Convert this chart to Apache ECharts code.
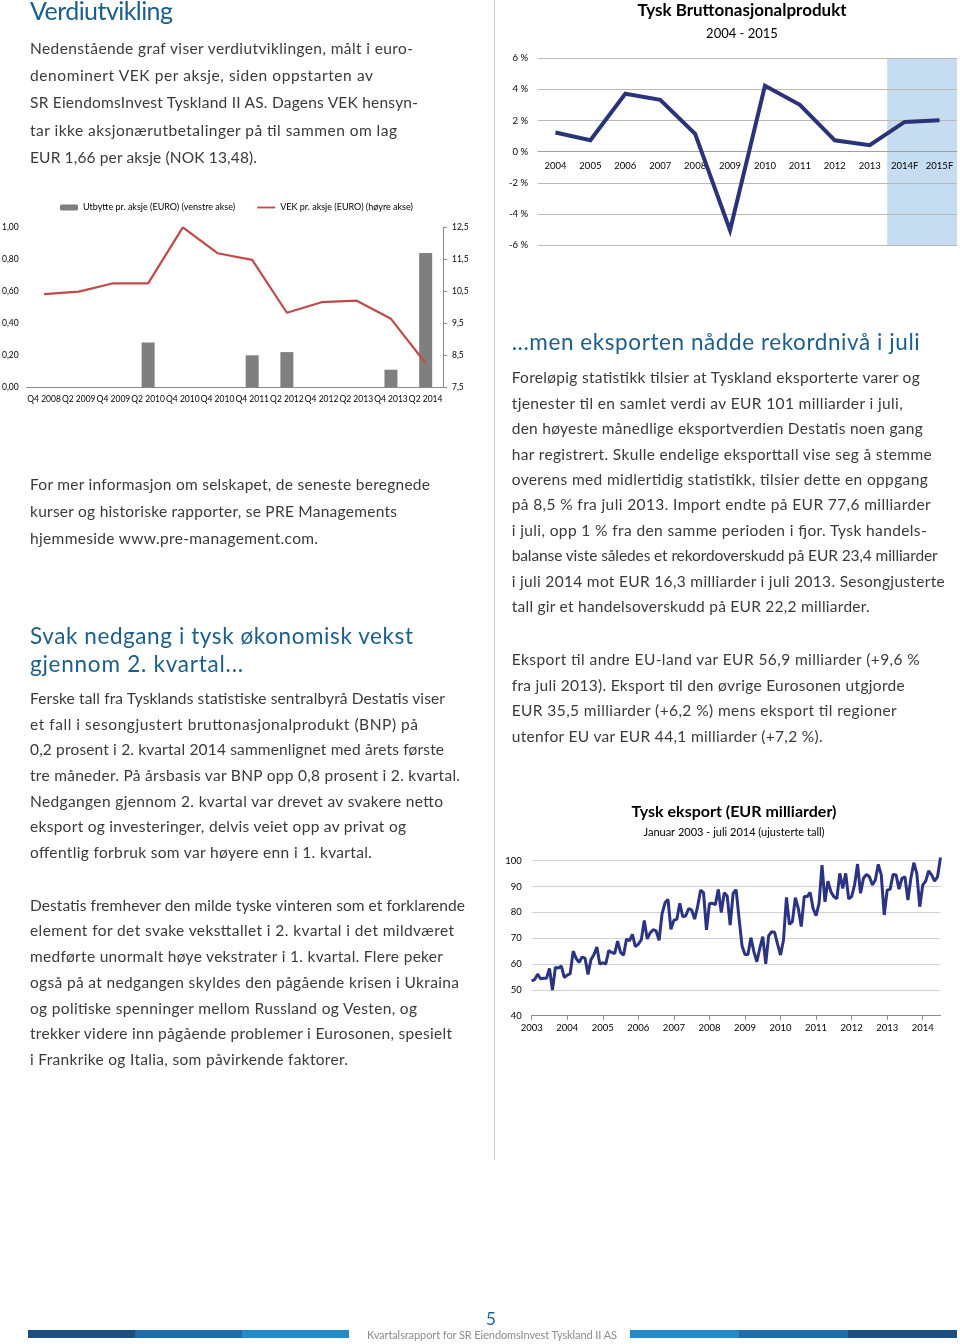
<!DOCTYPE html>
<html><head><meta charset="utf-8">
<script src="https://cdn.jsdelivr.net/npm/echarts@6/dist/echarts.min.js"></script>
<style>
html,body{margin:0;padding:0;background:#fff;}
#page{position:relative;width:960px;height:1344px;overflow:hidden;background:#fff;}
#chart{position:absolute;left:0;top:0;width:960px;height:1344px;}
#overlay{position:absolute;left:0;top:0;pointer-events:none;}
</style></head><body>
<div id="page"><div id="chart"></div><svg id="overlay" width="960" height="1344" xmlns="http://www.w3.org/2000/svg"></svg></div>
<script>
// ---------- DATA ----------
// Left chart: Verdiutvikling
const quarterLabels = ['Q4 2008','Q2 2009','Q4 2009','Q2 2010','Q4 2010','Q4 2010','Q4 2011','Q2 2012','Q4 2012','Q2 2013','Q4 2013','Q2 2014'];
const dividend = [0, 0, 0, 0.28, 0, 0, 0.20, 0.22, 0, 0, 0.11, 0.84];
const vek = [10.41, 10.49, 10.75, 10.75, 12.5, 11.69, 11.48, 9.83, 10.16, 10.21, 9.64, 8.25];
const dividendName = 'Utbytte pr. aksje (EURO) (venstre akse)';
const vekName = 'VEK pr. aksje (EURO) (høyre akse)';

// GDP chart
const gdpYears = ['2004','2005','2006','2007','2008','2009','2010','2011','2012','2013','2014F','2015F'];
const gdpGrowth = [1.23, 0.73, 3.72, 3.33, 1.14, -5.05, 4.24, 3.01, 0.73, 0.41, 1.91, 2.02];
const gdpTitle = 'Tysk Bruttonasjonalprodukt';
const gdpSubtitle = '2004 - 2015';

// Export chart (monthly, EUR bn)
const exportYears = ['2003','2004','2005','2006','2007','2008','2009','2010','2011','2012','2013','2014'];
const exp2003 = [53.5, 54.0, 56.1, 54.3, 54.5, 54.5, 58.3, 49.9, 58.7, 58.5, 59.2, 54.8];
const exp2004 = [55.7, 56.3, 65.0, 62.2, 60.6, 62.7, 62.3, 56.0, 61.7, 63.6, 66.6, 59.9];
const exp2005 = [60.5, 60.0, 65.2, 64.5, 64.0, 68.9, 64.5, 63.4, 69.7, 69.0, 71.5, 66.7];
const exp2006 = [67.7, 69.4, 76.9, 69.7, 72.1, 73.3, 72.8, 69.2, 79.4, 83.7, 85.0, 73.4];
const exp2007 = [77.0, 77.3, 83.5, 78.3, 78.7, 81.5, 80.9, 77.4, 82.2, 88.6, 87.6, 73.2];
const exp2008 = [83.4, 83.5, 83.0, 88.9, 79.9, 87.6, 86.3, 75.1, 87.4, 88.8, 77.7, 67.1];
const exp2009 = [63.7, 63.7, 70.2, 64.8, 60.9, 66.1, 70.6, 60.1, 71.0, 72.5, 72.3, 67.7];
const exp2010 = [63.5, 69.3, 85.8, 75.4, 76.4, 85.7, 81.5, 74.5, 86.1, 86.1, 87.7, 81.5];
const exp2011 = [78.7, 83.5, 98.3, 84.1, 92.1, 88.0, 86.1, 85.2, 95.1, 89.3, 95.1, 85.2];
const exp2012 = [86.1, 90.6, 98.7, 87.4, 93.2, 94.7, 93.8, 90.6, 92.5, 98.6, 94.5, 79.0];
const exp2013 = [88.6, 89.0, 94.7, 94.5, 89.0, 93.2, 93.7, 84.8, 93.2, 99.2, 95.1, 82.2];
const exp2014 = [90.6, 92.1, 96.0, 94.5, 92.1, 93.8, 101.2];
const exportTitle = 'Tysk eksport (EUR milliarder)';
const exportSubtitle = 'Januar 2003 - juli 2014 (ujusterte tall)';

// ---------- build ----------
const exportByYear = [exp2003, exp2004, exp2005, exp2006, exp2007, exp2008, exp2009, exp2010, exp2011, exp2012, exp2013, exp2014];
const exportMonths = [];
const exportValues = [];
exportByYear.forEach((arr, yi) => {
  arr.forEach((v, mi) => {
    exportMonths.push(exportYears[yi] + '-' + String(mi + 1).padStart(2, '0'));
    exportValues.push(v);
  });
});
const forecastStart = gdpYears.indexOf('2014F');
const gdpMin = -6, gdpMax = 6;

const FONT = 'Lato';
const AX = '#8a8a8a';
const isYearStart = (i) => i % 12 === 0;

// GDP grid geometry (pixels) -> axis offset that puts the category axis on the 0 line
const gdpGrid = {left: 538, top: 58.3, width: 419, height: 186.7};
const gdpZeroOffset = -gdpGrid.height * (0 - gdpMin) / (gdpMax - gdpMin);

const chart = echarts.init(document.getElementById('chart'), null, {renderer: 'canvas'});
const option = {
  animation: false,
  textStyle: {fontFamily: FONT},
  grid: [
    {left: 26.7, top: 227.3, width: 416.3, height: 160, outerBoundsMode: 'none'},
    Object.assign({outerBoundsMode: 'none'}, gdpGrid),
    {left: 531.7, top: 860.7, width: 408.8, height: 155, outerBoundsMode: 'none'}
  ],
  legend: {
    left: 60, top: 203, padding: 0,
    itemWidth: 18, itemHeight: 6, itemGap: 22,
    textStyle: {fontSize: 9, color: '#000', fontFamily: FONT},
    data: [
      {name: dividendName},
      {name: vekName, icon: 'path://M0,0L20,0L20,2L0,2Z'}
    ]
  },
  graphic: [
    {type: 'text', x: 742, y: 11, style: {text: gdpTitle, fontFamily: FONT, fontWeight: 'bold', fontSize: 17, fill: '#000', align: 'center', verticalAlign: 'middle'}},
    {type: 'text', x: 742, y: 34.3, style: {text: gdpSubtitle, fontFamily: FONT, fontSize: 13, fill: '#000', align: 'center', verticalAlign: 'middle'}},
    {type: 'text', x: 734, y: 811.4, style: {text: exportTitle, fontFamily: FONT, fontWeight: 'bold', fontSize: 16, fill: '#000', align: 'center', verticalAlign: 'middle'}},
    {type: 'text', x: 734, y: 832, style: {text: exportSubtitle, fontFamily: FONT, fontSize: 11, fill: '#000', align: 'center', verticalAlign: 'middle'}}
  ],
  xAxis: [
    {gridIndex: 0, type: 'category', data: quarterLabels,
     axisLine: {onZero: false, lineStyle: {color: AX}}, axisTick: {length: 4, lineStyle: {color: AX}},
     axisLabel: {interval: 0, fontSize: 8.5, color: '#000', margin: 7, fontFamily: FONT},
     splitLine: {show: false}},
    {gridIndex: 1, type: 'category', data: gdpYears, position: 'bottom', offset: gdpZeroOffset, z: 3,
     axisLine: {onZero: false, lineStyle: {color: '#a0a0a0'}}, axisTick: {length: 4, lineStyle: {color: '#a0a0a0'}},
     axisLabel: {interval: 0, fontSize: 9.5, color: '#000', margin: 9, fontFamily: FONT},
     splitLine: {show: false}},
    {gridIndex: 2, type: 'category', data: exportMonths, boundaryGap: false,
     axisLine: {onZero: false, lineStyle: {color: AX}}, axisTick: {interval: isYearStart, length: 4, lineStyle: {color: AX}},
     axisLabel: {interval: isYearStart, formatter: (v) => v.slice(0, 4), fontSize: 9.5, color: '#000', margin: 7, fontFamily: FONT},
     splitLine: {show: false}},
    {gridIndex: 1, type: 'value', min: 0, max: gdpYears.length, show: false}
  ],
  yAxis: [
    {gridIndex: 0, type: 'value', min: 0, max: 1, interval: 0.2,
     axisLine: {show: false, onZero: false}, axisTick: {show: false}, splitLine: {show: false},
     axisLabel: {fontSize: 8.5, color: '#000', margin: 8, fontFamily: FONT, formatter: (v) => v.toFixed(2).replace('.', ',')}},
    {gridIndex: 0, type: 'value', position: 'right', min: 7.5, max: 12.5, interval: 1,
     axisLine: {show: true, onZero: false, lineStyle: {color: AX}}, axisTick: {show: true, length: 4, lineStyle: {color: AX}}, splitLine: {show: false},
     axisLabel: {fontSize: 8.5, color: '#000', margin: 9, fontFamily: FONT, formatter: (v) => v.toFixed(1).replace('.', ',')}},
    {gridIndex: 1, type: 'value', min: gdpMin, max: gdpMax, interval: 2, z: 3,
     axisLine: {show: false, onZero: false}, axisTick: {show: false},
     splitLine: {show: true, lineStyle: {color: '#b8b8b8', width: 1}},
     axisLabel: {fontSize: 9.5, color: '#000', margin: 10, fontFamily: FONT, formatter: (v) => v + ' %'}},
    {gridIndex: 2, type: 'value', min: 40, max: 100, interval: 10,
     axisLine: {show: false, onZero: false}, axisTick: {show: false},
     splitLine: {show: true, lineStyle: {color: '#d2d2d2', width: 1}},
     axisLabel: {fontSize: 9.5, color: '#000', margin: 10, fontFamily: FONT}}
  ],
  series: [
    {name: dividendName, type: 'bar', xAxisIndex: 0, yAxisIndex: 0, data: dividend, barWidth: 13,
     itemStyle: {color: '#7f7f7f'}},
    {name: vekName, type: 'line', xAxisIndex: 0, yAxisIndex: 1, data: vek, symbol: 'none',
     lineStyle: {color: '#bf4a47', width: 2.2}, itemStyle: {color: '#bf4a47'}, z: 4},
    {name: 'forecast', type: 'line', xAxisIndex: 3, yAxisIndex: 2, data: [], z: 1, silent: true,
     markArea: {silent: true, z: 1, itemStyle: {color: '#c6dcf1'},
       data: [[{xAxis: forecastStart, yAxis: gdpMin}, {xAxis: gdpYears.length, yAxis: gdpMax}]]}},
    {name: 'BNP', type: 'line', xAxisIndex: 1, yAxisIndex: 2, data: gdpGrowth, symbol: 'none', z: 5,
     lineStyle: {color: '#2b3378', width: 4, join: 'miter'}},
    {name: 'Eksport', type: 'line', xAxisIndex: 2, yAxisIndex: 3, data: exportValues, symbol: 'none', clip: false, z: 5,
     lineStyle: {color: '#2b3383', width: 3}}
  ]
};
chart.setOption(option);

// ---------- page text (SVG overlay) ----------
const NS = 'http://www.w3.org/2000/svg';
const svg = document.getElementById('overlay');
const HEAD = '#1b5e8c';
const BODY = '#3a3a3a';

const introTitle = 'Verdiutvikling';
const introLines = [
  'Nedenstående graf viser verdiutviklingen, målt i euro-',
  'denominert VEK per aksje, siden oppstarten av',
  'SR EiendomsInvest Tyskland II AS. Dagens VEK hensyn-',
  'tar ikke aksjonærutbetalinger på til sammen om lag',
  'EUR 1,66 per aksje (NOK 13,48).'
];
const infoLines = [
  'For mer informasjon om selskapet, de seneste beregnede',
  'kurser og historiske rapporter, se PRE Managements',
  'hjemmeside www.pre-management.com.'
];
const gdpHeadLines = ['Svak nedgang i tysk økonomisk vekst', 'gjennom 2. kvartal...'];
const gdpParaLines = [
  'Ferske tall fra Tysklands statistiske sentralbyrå Destatis viser',
  'et fall i sesongjustert bruttonasjonalprodukt (BNP) på',
  '0,2 prosent i 2. kvartal 2014 sammenlignet med årets første',
  'tre måneder. På årsbasis var BNP opp 0,8 prosent i 2. kvartal.',
  'Nedgangen gjennom 2. kvartal var drevet av svakere netto',
  'eksport og investeringer, delvis veiet opp av privat og',
  'offentlig forbruk som var høyere enn i 1. kvartal.'
];
const destatisLines = [
  'Destatis fremhever den milde tyske vinteren som et forklarende',
  'element for det svake veksttallet i 2. kvartal i det mildværet',
  'medførte unormalt høye vekstrater i 1. kvartal. Flere peker',
  'også på at nedgangen skyldes den pågående krisen i Ukraina',
  'og politiske spenninger mellom Russland og Vesten, og',
  'trekker videre inn pågående problemer i Eurosonen, spesielt',
  'i Frankrike og Italia, som påvirkende faktorer.'
];
const exportHead = '...men eksporten nådde rekordnivå i juli';
const exportParaLines = [
  'Foreløpig statistikk tilsier at Tyskland eksporterte varer og',
  'tjenester til en samlet verdi av EUR 101 milliarder i juli,',
  'den høyeste månedlige eksportverdien Destatis noen gang',
  'har registrert. Skulle endelige eksporttall vise seg å stemme',
  'overens med midlertidig statistikk, tilsier dette en oppgang',
  'på 8,5 % fra juli 2013. Import endte på EUR 77,6 milliarder',
  'i juli, opp 1 % fra den samme perioden i fjor. Tysk handels-',
  'balanse viste således et rekordoverskudd på EUR 23,4 milliarder',
  'i juli 2014 mot EUR 16,3 milliarder i juli 2013. Sesongjusterte',
  'tall gir et handelsoverskudd på EUR 22,2 milliarder.'
];
const euLines = [
  'Eksport til andre EU-land var EUR 56,9 milliarder (+9,6 %',
  'fra juli 2013). Eksport til den øvrige Eurosonen utgjorde',
  'EUR 35,5 milliarder (+6,2 %) mens eksport til regioner',
  'utenfor EU var EUR 44,1 milliarder (+7,2 %).'
];
const pageNumber = '5';
const footerText = 'Kvartalsrapport for SR EiendomsInvest Tyskland II AS';

function addText(str, x, y, size, color, width) {
  const t = document.createElementNS(NS, 'text');
  t.setAttribute('x', x); t.setAttribute('y', y);
  t.setAttribute('font-family', FONT); t.setAttribute('font-size', size);
  t.setAttribute('fill', color);
  if (width) { t.setAttribute('textLength', width); t.setAttribute('lengthAdjust', 'spacing'); }
  t.textContent = str;
  svg.appendChild(t);
}
function addBlock(lines, x, y0, lh, size, color, widths) {
  lines.forEach((s, i) => addText(s, x, y0 + i * lh, size, color, widths[i]));
}
function addRect(x, y, w, h, fill) {
  const r = document.createElementNS(NS, 'rect');
  r.setAttribute('x', x); r.setAttribute('y', y); r.setAttribute('width', w); r.setAttribute('height', h);
  r.setAttribute('fill', fill); svg.appendChild(r);
}

// separator
const sep = document.createElementNS(NS, 'line');
sep.setAttribute('x1', 494.5); sep.setAttribute('x2', 494.5); sep.setAttribute('y1', 0); sep.setAttribute('y2', 1160);
sep.setAttribute('stroke', '#d0d0d0'); sep.setAttribute('stroke-width', 1); svg.appendChild(sep);

addText(introTitle, 30, 20, 25, HEAD, 143);
addBlock(introLines, 30, 54, 27.2, 15.5, BODY, [383, 343, 388, 367, 227]);
addBlock(infoLines, 30, 490, 27.2, 15.5, BODY, [400, 367, 288]);
addBlock(gdpHeadLines, 30, 644.3, 27.4, 22.5, HEAD, [383, 213]);
addBlock(gdpParaLines, 30, 704.3, 25.55, 15.5, BODY, [415, 388, 414, 430, 413, 376, 342]);
addBlock(destatisLines, 30, 910.7, 25.7, 15.5, BODY, [435, 424, 413, 429, 387, 422, 318]);
addText(exportHead, 511.7, 350, 22.5, HEAD, 408);
addBlock(exportParaLines, 511.7, 383.3, 25.4, 15.5, BODY, [408, 391, 411, 420, 416, 419, 415, 426, 433, 358]);
addBlock(euLines, 511.7, 665, 25.5, 15.5, BODY, [408, 393, 385, 311]);

// footer
const footerLeft = ['#1c4f7e', '#1e6ca8', '#228bc8'];
const footerRight = ['#228bc8', '#1e6ca8', '#1c4f7e'];
footerLeft.forEach((c, i) => addRect(28 + i * 107, 1330, 107, 8, c));
footerRight.forEach((c, i) => addRect(630 + i * 109, 1330, 109, 8, c));
const pn = document.createElementNS(NS, 'text');
pn.setAttribute('x', 491); pn.setAttribute('y', 1325); pn.setAttribute('text-anchor', 'middle');
pn.setAttribute('font-family', FONT); pn.setAttribute('font-size', 17); pn.setAttribute('fill', HEAD);
pn.textContent = pageNumber; svg.appendChild(pn);
addText(footerText, 367, 1339, 11, '#8c8c8c', 250);
</script>
</body></html>
